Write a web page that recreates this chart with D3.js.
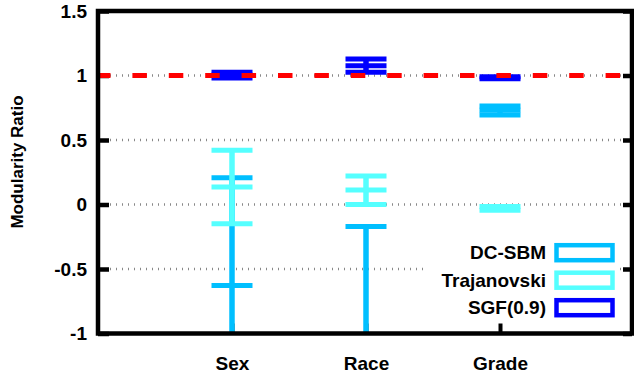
<!DOCTYPE html>
<html>
<head>
<meta charset="utf-8">
<script src="https://cdn.jsdelivr.net/npm/d3@7"></script>
<style>
  body { margin: 0; background: #fff; }
  svg { display: block; }
  text { font-family: "Liberation Sans", Arial, Helvetica, sans-serif; font-weight: bold; fill: #000; }
</style>
</head>
<body>
<svg id="chart" width="634" height="376"></svg>
<script>
// categories on the x axis
var categories = ["Sex", "Race", "Grade"];
var yTicks = [-1, -0.5, 0, 0.5, 1, 1.5];
var seriesNames = ["DC-SBM", "Trajanovski", "SGF(0.9)"];
var seriesColors = ["#00bfff", "#55ffff", "#0000ff"];

// horizontal bars (whisker caps / box edges) per category
var dcsbmMarks = [[0.207, -0.627], [-0.171], [0.764, 0.73, 0.694]];
var trajMarks = [[0.42, 0.135, -0.15], [0.22, 0.112, 0.0], [-0.015, -0.045]];
var sgfMarks = [[1.026, 1.003, 0.98], [1.127, 1.076, 1.026], [0.99, 0.975]];

// vertical extent per category [low, high] (lows under -1 are clipped)
var dcsbmRange = [[-1.2, 0.207], [-1.2, -0.171], [0.694, 0.764]];
var trajRange = [[-0.15, 0.42], [0.0, 0.22], [-0.045, -0.015]];
var sgfRange = [[0.98, 1.026], [1.026, 1.127], [0.975, 0.99]];

var refValue = 1;

var svg = d3.select("#chart");
var pLeft = 98, pRight = 632, pTop = 11, pBottom = 333.5;

var x = d3.scaleLinear().domain([0, 4]).range([98, 634]);
var y = d3.scaleLinear().domain([-1, 1.5]).range([pBottom, pTop]);

svg.append("defs").append("clipPath").attr("id", "plotClip")
    .append("rect")
    .attr("x", pLeft).attr("y", pTop)
    .attr("width", pRight - pLeft).attr("height", pBottom - pTop);

// dotted grid
svg.append("g")
    .selectAll("line")
    .data([-0.5, 0, 0.5, 1])
    .enter()
    .append("line")
    .attr("x1", pLeft + 12)
    .attr("x2", pRight - 10)
    .attr("y1", function(d) { return y(d); })
    .attr("y2", function(d) { return y(d); })
    .attr("stroke", "#888")
    .attr("stroke-width", 2.5)
    .attr("stroke-dasharray", "1,5");

// left axis: ticks point inward
var yAxisGroup = svg.append("g")
    .attr("transform", "translate(" + pLeft + ",0)")
    .call(d3.axisLeft(y).tickValues(yTicks).tickFormat(function(d) { return String(d); })
        .tickSizeInner(-11).tickSizeOuter(0).tickPadding(11));
yAxisGroup.select(".domain").remove();
yAxisGroup.selectAll("line").attr("stroke", "#000").attr("stroke-width", 4.5);
yAxisGroup.selectAll("text")
    .attr("x", -11)
    .attr("font-size", "19px")
    .attr("font-family", "'Liberation Sans', Arial, sans-serif")
    .attr("font-weight", "bold")
    .attr("fill", "#000");

// right axis mirror ticks
var yRight = svg.append("g")
    .attr("transform", "translate(" + pRight + ",0)")
    .call(d3.axisRight(y).tickValues(yTicks).tickFormat("").tickSizeInner(-9).tickSizeOuter(0));
yRight.select(".domain").remove();
yRight.selectAll("line").attr("stroke", "#000").attr("stroke-width", 4.5);

// bottom axis
var xAxisGroup = svg.append("g")
    .attr("transform", "translate(0," + pBottom + ")")
    .call(d3.axisBottom(x).tickValues([1, 2, 3])
        .tickFormat(function(d) { return categories[d - 1]; })
        .tickSizeInner(-10).tickSizeOuter(0).tickPadding(0));
xAxisGroup.select(".domain").remove();
xAxisGroup.selectAll("line").attr("stroke", "#000").attr("stroke-width", 4);
xAxisGroup.selectAll("text")
    .attr("y", 36)
    .attr("dy", 0)
    .attr("font-size", "19px")
    .attr("font-family", "'Liberation Sans', Arial, sans-serif")
    .attr("font-weight", "bold")
    .attr("fill", "#000");

// series
var plot = svg.append("g").attr("clip-path", "url(#plotClip)");
var allMarks = [dcsbmMarks, trajMarks, sgfMarks];
var allRanges = [dcsbmRange, trajRange, sgfRange];
var capHalf = 20.5;

allMarks.forEach(function(marks, s) {
    var g = plot.append("g");
    g.selectAll("line.stem")
        .data(allRanges[s])
        .enter()
        .append("line")
        .attr("class", "stem")
        .attr("x1", function(d, i) { return x(i + 1); })
        .attr("x2", function(d, i) { return x(i + 1); })
        .attr("y1", function(d) { return y(d[0]); })
        .attr("y2", function(d) { return y(d[1]); })
        .attr("stroke", seriesColors[s])
        .attr("stroke-width", 5.5);

    marks.forEach(function(vals, i) {
        g.selectAll("line.cap" + i)
            .data(vals)
            .enter()
            .append("line")
            .attr("class", "cap" + i)
            .attr("x1", x(i + 1) - capHalf)
            .attr("x2", x(i + 1) + capHalf)
            .attr("y1", function(d) { return y(d); })
            .attr("y2", function(d) { return y(d); })
            .attr("stroke", seriesColors[s])
            .attr("stroke-width", 5);
    });
});

// reference line at 1
svg.append("line")
    .attr("x1", 96)
    .attr("x2", pRight - 11)
    .attr("y1", y(refValue))
    .attr("y2", y(refValue))
    .attr("stroke", "#ff0000")
    .attr("stroke-width", 5)
    .attr("stroke-dasharray", "14.5,21.9");

// frame
svg.append("path")
    .attr("d", "M" + pLeft + "," + pBottom + "V" + pTop + "H" + pRight + "V" + pBottom + "Z")
    .attr("fill", "none")
    .attr("stroke", "#000")
    .attr("stroke-width", 4.5);

// legend
var legend = svg.append("g");
legend.append("rect")
    .attr("x", 424).attr("y", 237)
    .attr("width", 196).attr("height", 84)
    .attr("fill", "#fff");

seriesNames.forEach(function(name, i) {
    var cy = 252.7 + i * 27.5;
    legend.append("text")
        .attr("x", 546)
        .attr("y", cy)
        .attr("dy", "0.35em")
        .attr("text-anchor", "end")
        .attr("font-size", "19px")
        .text(name);
    legend.append("rect")
        .attr("x", 556.5)
        .attr("y", cy - 7.5)
        .attr("width", 56)
        .attr("height", 15)
        .attr("fill", "#fff")
        .attr("stroke", seriesColors[i])
        .attr("stroke-width", 4.5);
});

// y title
svg.append("text")
    .attr("transform", "translate(17.5,162) rotate(-90)")
    .attr("text-anchor", "middle")
    .attr("dy", "0.35em")
    .attr("font-size", "17px")
    .text("Modularity Ratio");
</script>
</body>
</html>
